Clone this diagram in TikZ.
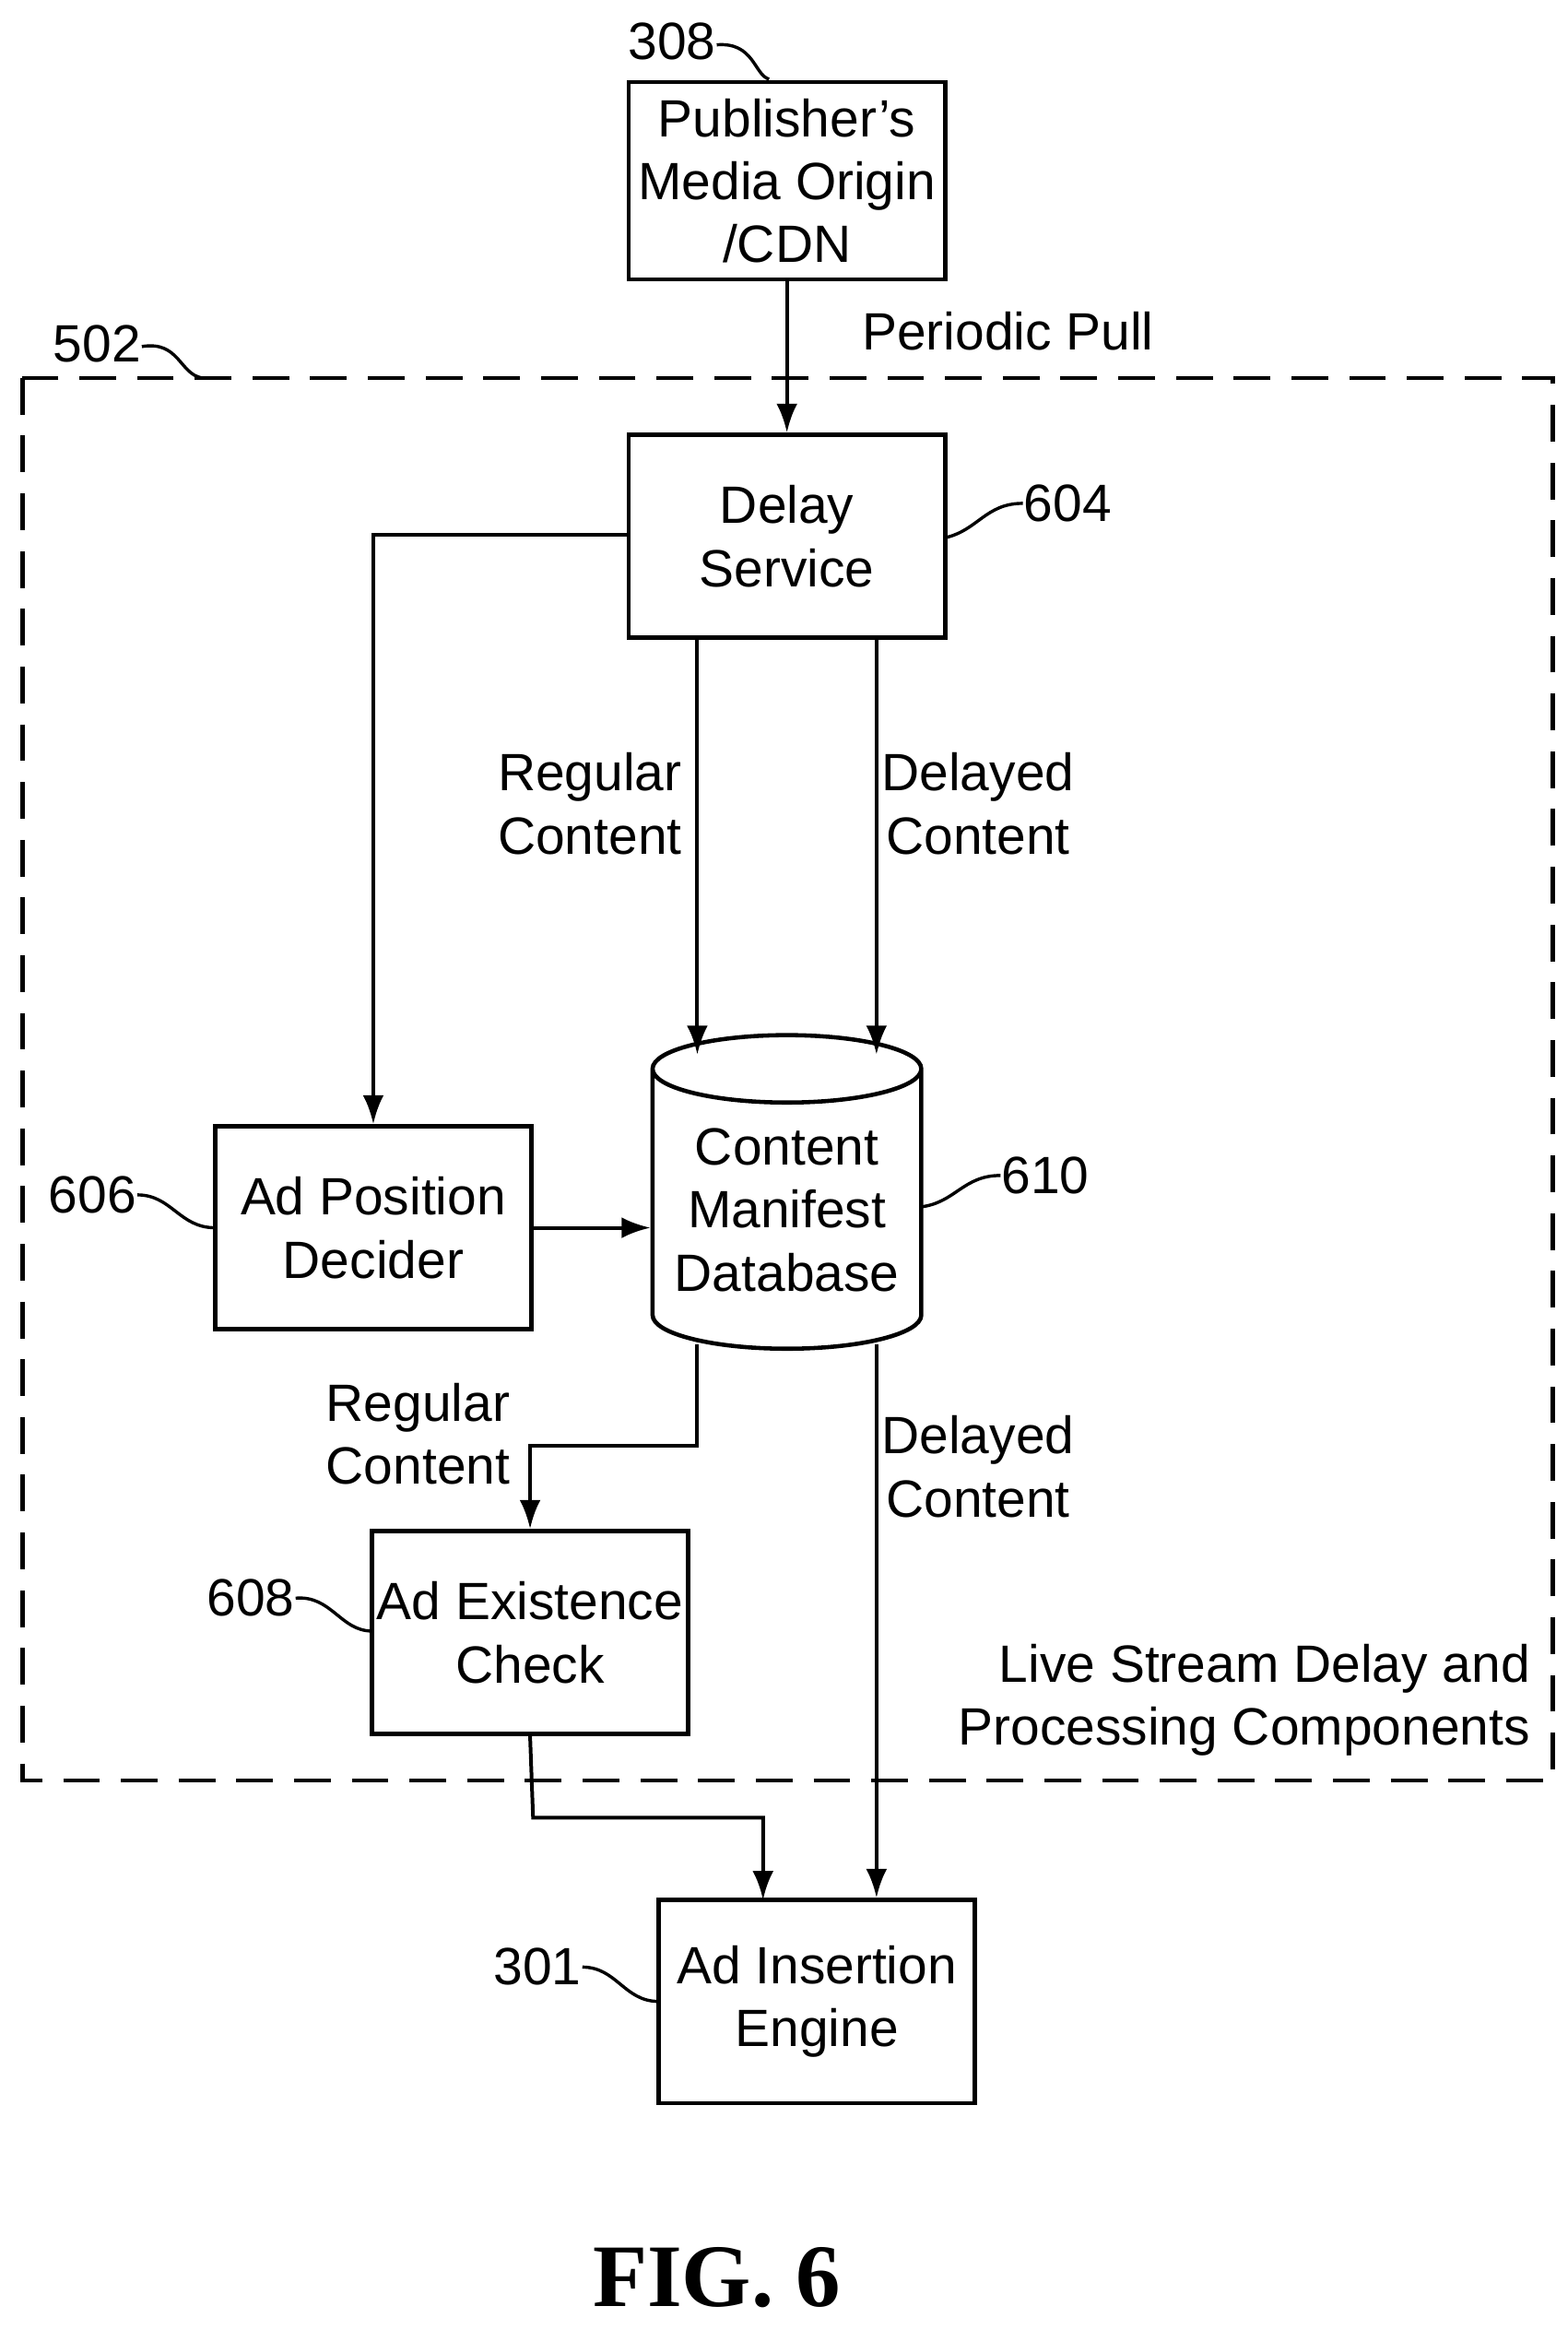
\documentclass[tikz,border=0pt]{standalone}
\usepackage{fontspec}
\setmainfont{Liberation Sans}
\newfontfamily\figfont{Liberation Serif}
\usepackage{tikz}
\usetikzlibrary{shapes.geometric,positioning,arrows.meta}

\begin{document}
\begin{tikzpicture}[x=0.02cm,y=-0.02cm,
  box/.style={draw,line width=1.6pt,minimum width=4.24cm,minimum height=2.72cm,align=center,inner sep=0pt},
  lbl/.style={align=center,inner sep=0pt},
  link/.style={line width=1.4pt,-{Latex[length=11pt,width=8pt]}},
  lead/.style={line width=1.2pt}]
\tikzstyle{every node}+=[font=\fontsize{20}{24}\selectfont]
\useasboundingbox (0,0) rectangle (1050,1560);
\draw [line width=1.6pt,dash pattern=on 14pt off 8pt] (15,253) rectangle (1040,1192);
\node (pub) [box,minimum height=2.64cm] at (527,121) {Publisher's\\Media Origin\\/CDN};
\node (delay) [box] at (527,359) {Delay\\Service};
\node (adpos) [box] at (250,822) {Ad Position\\Decider};
\node (exist) [box] at (355,1093) {Ad Existence\\Check};
\node (insert) [box] at (547,1340) {Ad Insertion\\Engine};
\node (db) [draw,line width=1.6pt,cylinder,shape border rotate=90,aspect=0.3,
  minimum width=3.6cm,minimum height=4.2cm,align=center,inner sep=0pt] at (527,810)
  {Content\\Manifest\\Database};
% connectors
\draw [link] (delay.west |- 0,358) -| (adpos.north);
\draw [link] (pub.south) -- (delay.north);
\draw [link] (467,427) -- (467,706);
\draw [link] (587,427) -- (587,706);
\draw [link] (adpos.east) -- (db.west |- adpos.east);
\draw [link] (467,900) -- (467,968) -| (exist.north);
\draw [link] (587,900) -- (insert.north -| 587,0);
\draw [link] (exist.south) -- (357,1217) -| (511,1272);
% labels
\node [lbl] (pull) at (675,222) {Periodic Pull};
\node [lbl] (reg1) at (395,538) {Regular\\Content};
\node [lbl] (del1) at (655,538) {Delayed\\Content};
\node [lbl] (reg2) at (280,960) {Regular\\Content};
\node [lbl] (del2) at (655,982) {Delayed\\Content};
\node [lbl,align=right,anchor=east] (live) at (1025,1138) {Live Stream Delay and\\Processing Components};
\node [lbl,font=\fontsize{34}{40}\selectfont\bfseries\figfont] (fig) at (480,1525) {FIG. 6};
% reference numerals
\node [lbl] (n308) at (450,28) {308};
\node [lbl] (n502) at (65,230) {502};
\node [lbl] (n604) at (715,337) {604};
\node [lbl] (n610) at (700,787) {610};
\node [lbl] (n606) at (62,800) {606};
\node [lbl] (n608) at (168,1070) {608};
\node [lbl] (n301) at (360,1317) {301};
\draw [lead] (480,30) .. controls (505,28) and (505,50) .. (515,53);
\draw [lead] (95,232) .. controls (120,228) and (120,250) .. (135,253);
\draw [lead] (633,360) .. controls (655,355) and (660,337) .. (685,337);
\draw [lead] (617,808) .. controls (640,805) and (645,787) .. (670,787);
\draw [lead] (92,800) .. controls (115,800) and (120,822) .. (144,822);
\draw [lead] (198,1070) .. controls (222,1068) and (228,1092) .. (249,1092);
\draw [lead] (390,1317) .. controls (413,1317) and (418,1340) .. (441,1340);
\end{tikzpicture}
\end{document}
